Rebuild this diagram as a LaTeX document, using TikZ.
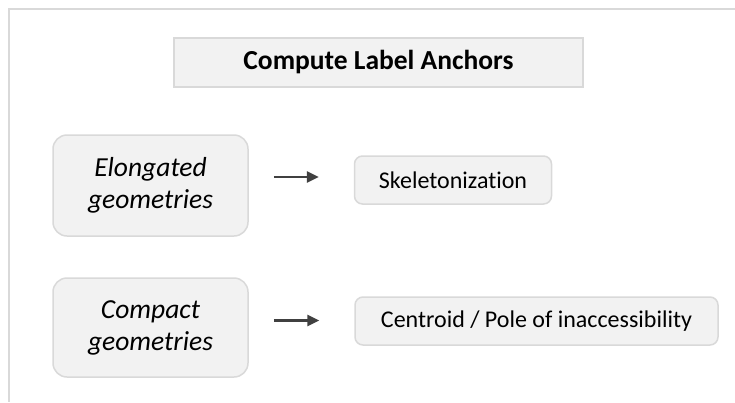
\documentclass[tikz,border=0pt]{standalone}
\usepackage{fontspec}
\setmainfont{Carlito}[Ligatures=NoCommon]
\usetikzlibrary{positioning}
\usetikzlibrary{arrows.meta}
\definecolor{boxfill}{HTML}{F2F2F2}
\definecolor{boxline}{HTML}{D9D9D9}
\definecolor{arrowgray}{HTML}{404040}
\tikzset{x=1pt, y=-1pt,
every box/.style={ % Sets the common look of all boxes
draw=boxline,
line width=1.5pt,
fill=boxfill,
inner sep=0pt,
align=center,
font=\fontsize{24}{32}\selectfont},
titlebox/.style={every box, font=\fontsize{27.5}{33}\selectfont\bfseries},
groupbox/.style={every box, rounded corners=14pt, font=\fontsize{27.5}{32}\selectfont\itshape},
methodbox/.style={every box, rounded corners=8pt, minimum height=48pt},
every edge/.style={ % Sets the properties for each arrow
draw=arrowgray,
line width=2.5pt,
-{Triangle[length=12pt,width=11pt]}}}
\begin{document}
\begin{tikzpicture}
	\useasboundingbox (0,0) rectangle (735,402);
	\draw[boxline, line width=2pt] (735,9) -- (9,9) -- (9,402);
	\node[titlebox, minimum width=409pt, minimum height=49pt] (title) at (378.5,62.5) {Compute Label Anchors};
	\node[groupbox, minimum width=195pt, minimum height=101pt] (elong) at (150.5,185.5) {Elongated\\geometries};
	\node[groupbox, minimum width=195pt, minimum height=99pt] (compact) at (150.5,327.5) {Compact\\geometries};
	\node[methodbox, minimum width=197pt] (skel) at (453,180) {Skeletonization};
	\node[methodbox, minimum width=363pt] (pole) at (536.5,321) {Centroid / Pole of inaccessibility};
	\draw ([xshift=25pt, yshift=3pt]elong.east |- skel.west) edge ([xshift=-35pt, yshift=3pt]skel.west);
	\draw ([xshift=25pt, yshift=0.5pt]compact.east |- pole.west) edge ([xshift=-35pt, yshift=0.5pt]pole.west);
\end{tikzpicture}
\end{document}
